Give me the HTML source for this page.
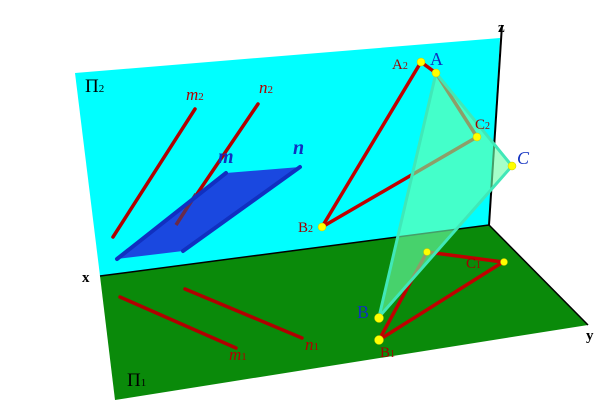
<!DOCTYPE html>
<html><head><meta charset="utf-8"><style>
html,body{margin:0;padding:0;background:#fff;width:600px;height:400px;overflow:hidden}
text{font-family:"Liberation Serif",serif}
</style></head><body>
<svg width="600" height="400" viewBox="0 0 600 400" xmlns="http://www.w3.org/2000/svg">
<polygon points="75,73 500,38 489,225 100,276" fill="#00ffff"/>
<polygon points="100,276 489,225 588,325 115,400" fill="#0a8a0a"/>
<line x1="100" y1="276" x2="489" y2="225" stroke="#000" stroke-width="1.5"/>
<line x1="489" y1="225" x2="588" y2="325" stroke="#000" stroke-width="1.5"/>
<line x1="502" y1="25" x2="489" y2="225" stroke="#000" stroke-width="2"/>
<text x="498" y="32" font-size="15" font-weight="bold">z</text>
<text x="82" y="282" font-size="15" font-weight="bold">x</text>
<text x="586" y="340" font-size="15" font-weight="bold">y</text>
<text x="85" y="92" font-size="19" fill="#000">Π<tspan font-size="11">2</tspan></text>
<text x="127" y="386" font-size="19" fill="#000">Π<tspan font-size="11">1</tspan></text>
<!-- m, n -->
<g stroke="#b00000" stroke-width="3.5" stroke-linecap="round">
<line x1="113" y1="237" x2="195" y2="109"/>
<line x1="176" y1="225" x2="258" y2="104"/>
<line x1="120" y1="297" x2="236" y2="348"/>
<line x1="185" y1="289" x2="302" y2="338"/>
</g>
<polygon points="117,259 226,173 300,167 183,251" fill="#1a48e0"/>
<line x1="176" y1="225" x2="196" y2="194" stroke="#6a2a4a" stroke-width="3.5"/>
<line x1="117" y1="259" x2="226" y2="173" stroke="#1030c0" stroke-width="4" stroke-linecap="round"/>
<line x1="183" y1="251" x2="300" y2="167" stroke="#1030c0" stroke-width="4" stroke-linecap="round"/>
<g font-style="italic" font-size="17" fill="#b00000">
<text x="186" y="100">m<tspan font-size="11" font-style="normal">2</tspan></text>
<text x="259" y="93">n<tspan font-size="11" font-style="normal">2</tspan></text>
<text x="229" y="360">m<tspan font-size="11" font-style="normal">1</tspan></text>
<text x="305" y="350">n<tspan font-size="11" font-style="normal">1</tspan></text>
</g>
<g font-style="italic" font-weight="bold" font-size="20" fill="#1030c0">
<text x="218" y="163">m</text>
<text x="293" y="154">n</text>
</g>
<!-- projections -->
<g stroke="#c00000" stroke-width="3.5" stroke-linecap="round">
<line x1="421" y1="62" x2="322" y2="227"/>
<line x1="322" y1="227" x2="477" y2="137"/>
<line x1="421" y1="62" x2="436" y2="73"/>
<line x1="436" y1="73" x2="477" y2="137"/>
<line x1="379" y1="340" x2="503" y2="262"/>
<line x1="427" y1="252" x2="503" y2="262"/>
<line x1="379" y1="340" x2="427" y2="252"/>
</g>
<!-- triangle -->
<polygon points="436,73 512,166 379,317" fill="rgba(110,255,170,0.62)" stroke="#40e8b8" stroke-width="3" stroke-linejoin="round"/>
<g fill="#ffff00" stroke="#c8c800" stroke-width="0.5">
<circle cx="421" cy="62" r="4"/><circle cx="436" cy="73" r="4"/>
<circle cx="477" cy="137" r="4"/><circle cx="512" cy="166" r="4"/>
<circle cx="322" cy="227" r="4"/><circle cx="379" cy="318" r="4.5"/>
<circle cx="379" cy="340" r="4.5"/><circle cx="427" cy="252" r="3.5"/>
<circle cx="504" cy="262" r="3.5"/>
</g>
<g font-size="15" fill="#a00000">
<text x="392" y="69">A<tspan font-size="10">2</tspan></text>
<text x="475" y="129">C<tspan font-size="10">2</tspan></text>
<text x="298" y="232">B<tspan font-size="10">2</tspan></text>
<text x="380" y="357">B<tspan font-size="10">1</tspan></text>
<text x="466" y="268">C<tspan font-size="10">1</tspan></text>
</g>
<g font-size="18" fill="#1030c0">
<text x="430" y="65">A</text>
<text x="517" y="164" font-style="italic">C</text>
<text x="357" y="318">B</text>
</g>
</svg>
</body></html>
